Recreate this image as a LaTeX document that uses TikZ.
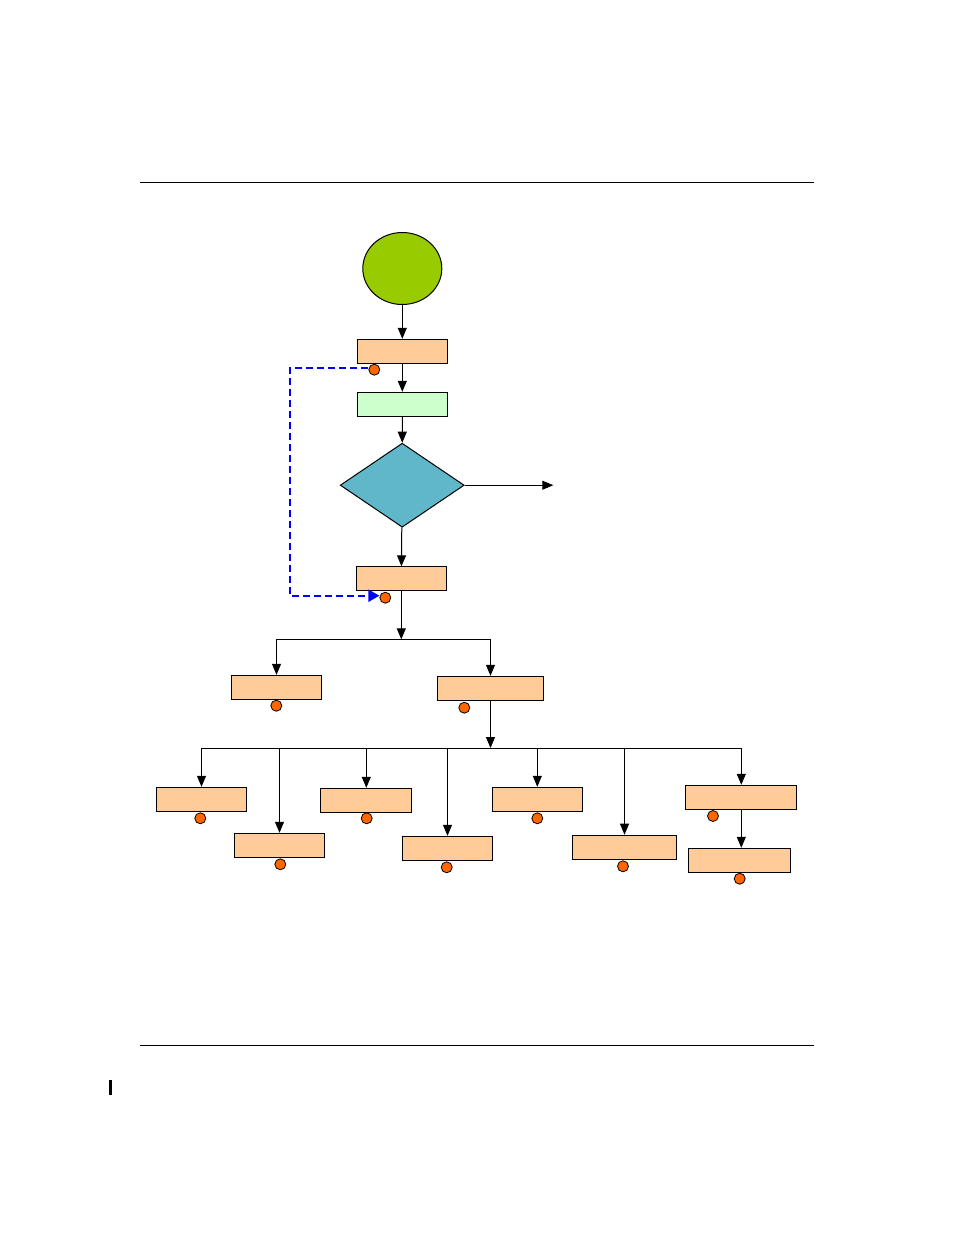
\documentclass[tikz,border=0pt]{standalone}
\usepackage{tikz}
\usetikzlibrary{positioning,shapes.geometric,arrows.meta}
\definecolor{boxorange}{HTML}{FFCC99}
\definecolor{boxgreen}{HTML}{CCFFCC}
\definecolor{diamondblue}{HTML}{60B7CA}
\definecolor{startgreen}{HTML}{99CC00}
\definecolor{dotorange}{HTML}{FF6600}
\tikzset{
block/.style = {draw, fill=boxorange, rectangle, inner sep=0pt, minimum width=90pt, minimum height=24pt},
check/.style = {draw, fill=boxgreen, rectangle, inner sep=0pt, minimum width=90pt, minimum height=24pt},
condition/.style = {draw, fill=diamondblue, diamond, inner sep=0pt, minimum width=124pt, minimum height=84pt},
entry/.style = {draw, fill=startgreen, ellipse, inner sep=0pt, minimum width=79pt, minimum height=72pt},
dot/.style = {draw, fill=dotorange, circle, inner sep=0pt, minimum size=11pt, line width=0.8pt},
loopline/.style = {draw=blue, line width=2pt, dash pattern=on 7pt off 4pt, -{Triangle[length=11pt,width=12pt]}}
}
\begin{document}
\begin{tikzpicture}[x=1pt, y=-1pt, line width=1pt, >={Triangle[length=11pt,width=9pt]}]
    \useasboundingbox (0,0) rectangle (954,1235);
    \fill[white] (0,0) rectangle (954,1235);

    % page rules
    \draw (140,182) -- (814,182);
    \draw (140,1045) -- (814,1045);
    \draw[line width=3pt] (110,1080) -- (110,1095);

    \node [entry] (start) at (402.3,268.5) {};
    \node [block] (proc1) at (402.3,351.3) {};
    \node [dot] (dot1) at (374.3,369.7) {};
    \node [check] (test) at (402.3,404.3) {};
    \node [condition] (cond) at (402.2,485.2) {};
    \coordinate (exit) at (553.3,485.2);
    \node [block] (proc2) at (401.3,578.8) {};
    \node [dot] (dot2) at (385.3,597.7) {};

    \coordinate (split1) at (401.3,639.3);
    \node [block] (left1) at (276.5,687.3) {};
    \node [dot] at (276.3,705.7) {};
    \node [block, minimum width=106pt] (right1) at (490.5,688.3) {};
    \node [dot] at (464.3,707.7) {};

    \coordinate (split2) at (490.5,748);
    \node [block] (sub1) at (201.5,799.3) {};
    \node [dot] at (200.3,818.3) {};
    \node [block] (sub2) at (279.5,845.3) {};
    \node [dot] at (280.3,864.3) {};
    \node [block, minimum width=91pt] (sub3) at (366.3,800.3) {};
    \node [dot] at (366.7,818.3) {};
    \node [block] (sub4) at (447.5,848.3) {};
    \node [dot] at (446.7,867.3) {};
    \node [block] (sub5) at (537.3,799.3) {};
    \node [dot] at (537.3,818.3) {};
    \node [block, minimum width=104pt] (sub6) at (624.5,847.2) {};
    \node [dot] at (623,866.3) {};
    \node [block, minimum width=111pt] (sub7) at (741.3,797.3) {};
    \node [dot] at (713,816) {};
    \node [block, minimum width=102pt] (sub8) at (739.3,860.3) {};
    \node [dot] at (739.7,878.7) {};

    \draw[->] (start) -- (proc1);
    \draw[->] (proc1) -- (test);
    \draw[->] (test) -- (cond);
    \draw[->] (cond.east) -- (exit);
    \draw[->] (cond) -- (proc2);

    \draw[loopline] ([yshift=2pt]dot1.west) -| ([xshift=-78pt,yshift=2pt]dot1.west) |- ([yshift=2pt]dot2.west);

    \draw[->] (proc2) -- (split1);
    \draw[->] (split1) -| (left1.north);
    \draw[->] (split1) -| (right1.north);

    \draw[->] (right1) -- (split2);
    \foreach \b in {sub1,sub2,sub3,sub4,sub5,sub6,sub7}
      \draw[->] (split2) -| (\b.north);
    \draw[->] (sub7) -- (sub7 |- sub8.north);

\end{tikzpicture}
\end{document}
